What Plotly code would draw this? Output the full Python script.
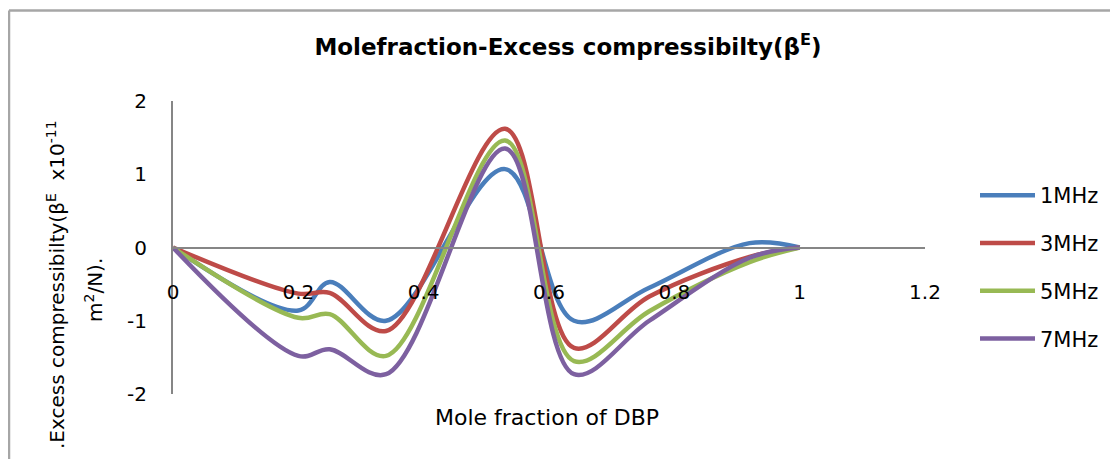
import plotly.graph_objects as go

# Data
mole_fraction = [0.0, 0.2, 0.25, 0.34, 0.53, 0.64, 0.76, 0.92, 1.0]
beta_1mhz = [0.0, -0.86, -0.47, -1.00, 1.07, -1.00, -0.55, 0.06, 0.0]
beta_3mhz = [0.0, -0.63, -0.62, -1.14, 1.62, -1.37, -0.67, -0.13, 0.0]
beta_5mhz = [0.0, -0.96, -0.91, -1.48, 1.46, -1.55, -0.87, -0.20, 0.0]
beta_7mhz = [0.0, -1.48, -1.39, -1.73, 1.35, -1.73, -1.00, -0.14, 0.0]

series_names = ["1MHz", "3MHz", "5MHz", "7MHz"]
series_colors = ["#4A7EBB", "#BE4B48", "#98B954", "#7D60A0"]

x_tickvals = [0, 0.2, 0.4, 0.6, 0.8, 1.0, 1.2]
x_ticktext = ["0", "0.2", "0.4", "0.6", "0.8", "1", "1.2"]
y_tickvals = [-2, -1, 0, 1, 2]
y_ticktext = ["-2", "-1", "0", "1", "2"]

FONT = "DejaVu Sans"
OFF = 8  # page body margin offset
W, H = 1118 - OFF, 459 - OFF
ML = 173 - OFF
MT = 101 - OFF
MR = W - (925 - OFF)
MB = H - (394 - OFF)
PW, PH = W - ML - MR, H - MT - MB


def px(pagex):
    """page pixel x -> paper fraction"""
    return (pagex - OFF - ML) / PW


def py(pagey):
    """page pixel y -> paper fraction"""
    return (H - MB - (pagey - OFF)) / PH


fig = go.Figure()
for name, color, ys in zip(series_names, series_colors,
                           [beta_1mhz, beta_3mhz, beta_5mhz, beta_7mhz]):
    fig.add_trace(go.Scatter(
        x=mole_fraction, y=ys, name=name, mode="lines",
        line=dict(color=color, width=4.5, shape="spline", smoothing=1.0),
        legendgroup=name,
    ))

fig.update_layout(
    width=W, height=H,
    margin=dict(l=ML, r=MR, t=MT, b=MB, autoexpand=False),
    paper_bgcolor="white", plot_bgcolor="white",
    font=dict(family=FONT, color="#000000", size=20),
    title=dict(
        text="<b>Molefraction-Excess compressibilty(β<sup>E</sup>)</b>",
        x=(568 - OFF) / W, xanchor="center", xref="container",
        y=1 - (47 - OFF) / H, yanchor="middle", yref="container",
        font=dict(family=FONT, size=23, color="#000000"),
    ),
    xaxis=dict(
        range=[0, 1.2], anchor="free", position=0.5,
        showline=True, linecolor="#868686", linewidth=2,
        showgrid=False, zeroline=False, ticks="",
        tickvals=x_tickvals, ticktext=x_ticktext,
        tickfont=dict(family=FONT, size=20, color="#000000"),
        ticklabelstandoff=26,
    ),
    yaxis=dict(
        range=[-2, 2],
        showline=True, linecolor="#868686", linewidth=2,
        showgrid=False, zeroline=False, ticks="",
        tickvals=y_tickvals, ticktext=y_ticktext,
        tickfont=dict(family=FONT, size=20, color="#000000"),
        ticklabelstandoff=20,
    ),
    legend=dict(
        x=px(975), xanchor="left",
        y=py(175), yanchor="top",
        traceorder="grouped", tracegroupgap=17.5,
        itemwidth=55,
        font=dict(family=FONT, size=21, color="#000000"),
        bgcolor="rgba(0,0,0,0)",
    ),
    showlegend=True,
)

# Axis titles
fig.add_annotation(
    text="Mole fraction of DBP",
    x=px(547), y=py(417),
    xref="paper", yref="paper", xanchor="center", yanchor="middle",
    showarrow=False, font=dict(family=FONT, size=22, color="#000000"),
)
fig.add_annotation(
    text=".Excess compressibilty(β<sup>E</sup>  x10<sup>-11</sup>",
    x=px(56), y=py(285),
    xref="paper", yref="paper", xanchor="center", yanchor="middle",
    textangle=-90, showarrow=False,
    font=dict(family=FONT, size=20, color="#000000"),
)
fig.add_annotation(
    text="m<sup>2</sup>/N).",
    x=px(94), y=py(290),
    xref="paper", yref="paper", xanchor="center", yanchor="middle",
    textangle=-90, showarrow=False,
    font=dict(family=FONT, size=20, color="#000000"),
)

# Chart-area border (top and left edges visible)
border_color = "#A6A6A6"
fig.add_shape(type="line", xref="paper", yref="paper",
              x0=px(9), x1=px(1118), y0=py(10.5), y1=py(10.5),
              line=dict(color=border_color, width=2.5))
fig.add_shape(type="line", xref="paper", yref="paper",
              x0=px(9), x1=px(9), y0=py(10.5), y1=py(459),
              line=dict(color=border_color, width=2.5))

fig.write_html("out.html")
